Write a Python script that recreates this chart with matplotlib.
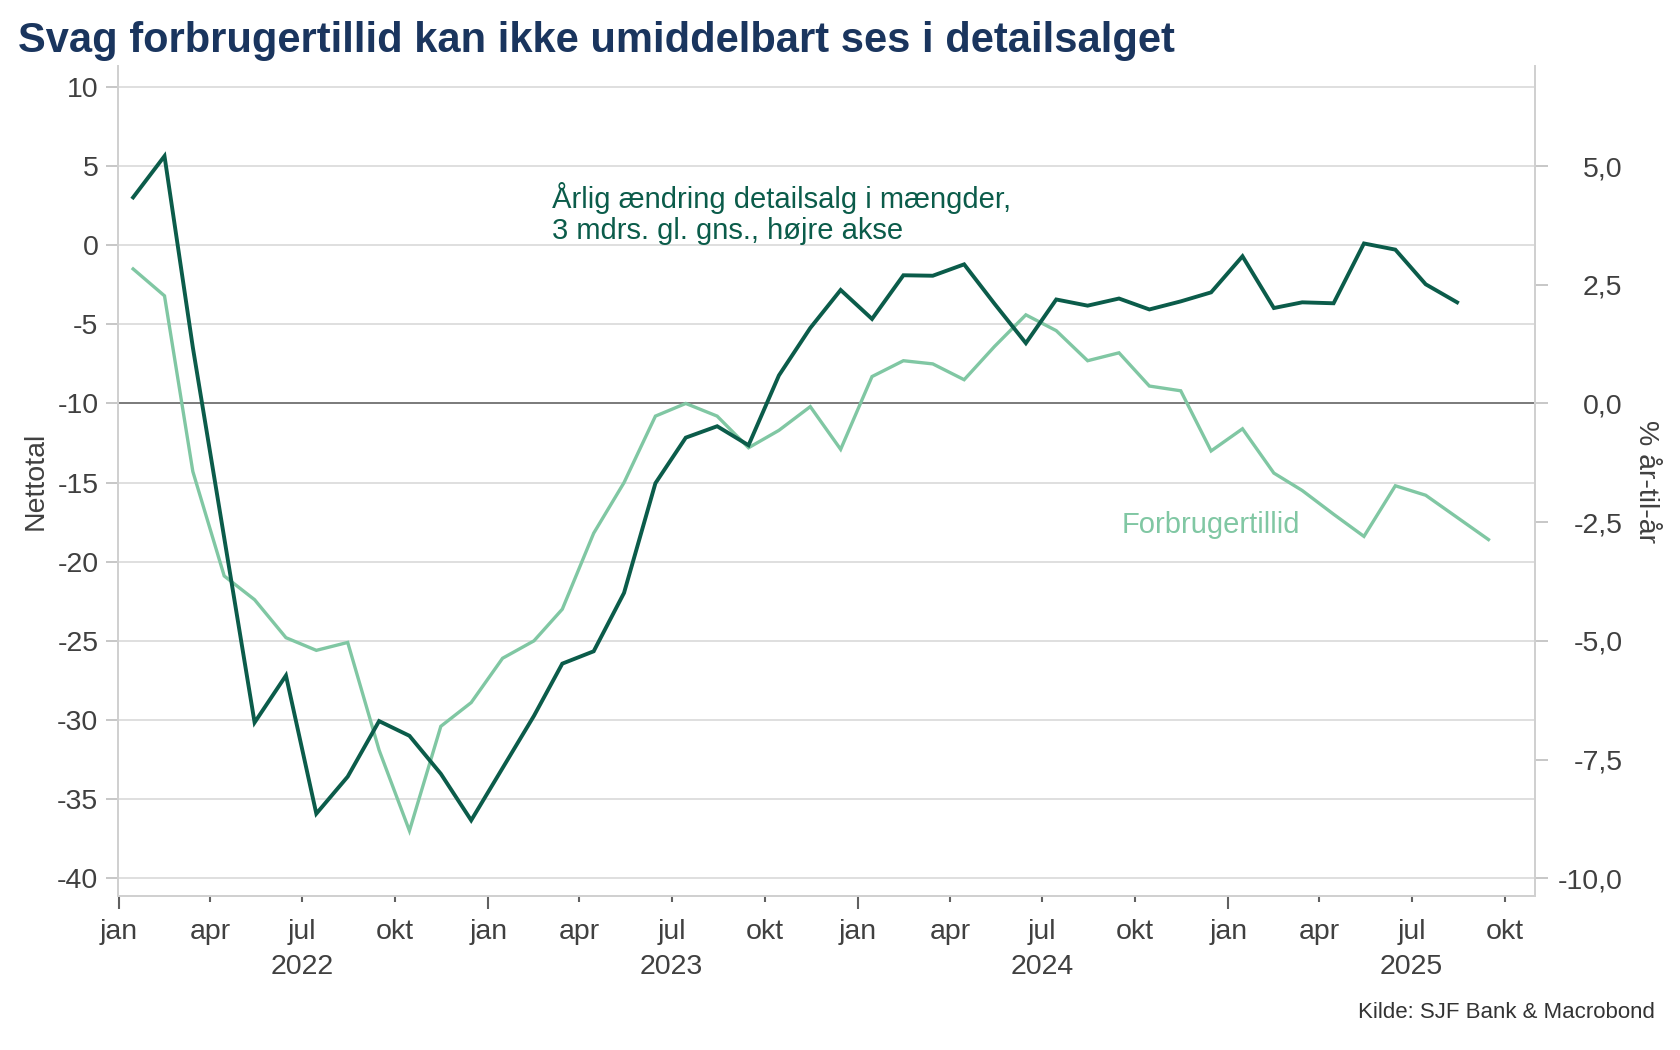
import matplotlib
matplotlib.use("Agg")
import matplotlib.pyplot as plt
import matplotlib.dates as mdates
import matplotlib.ticker as mticker
import pandas as pd
import numpy as np

plt.rcParams['font.family'] = ['Liberation Sans', 'DejaVu Sans']
plt.rcParams['axes.unicode_minus'] = False

# ---- data ----
start_month = "2022-01-01"
forbrugertillid = [-1.5, -3.2, -14.3, -20.9, -22.4, -24.8, -25.6, -25.1, -31.9, -37.0,
                   -30.4, -28.9, -26.1, -25.0, -23.0, -18.2, -15.0, -10.8, -10.0, -10.8,
                   -12.8, -11.7, -10.2, -12.9, -8.3, -7.3, -7.5, -8.5, -6.4, -4.4,
                   -5.4, -7.3, -6.8, -8.9, -9.2, -13.0, -11.6, -14.4, -15.5, -17.0,
                   -18.4, -15.2, -15.8, -17.2, -18.6]
detailsalg = [4.34, 5.21, 1.18, -2.83, -6.72, -5.73, -8.64, -7.86, -6.69, -7.00,
              -7.80, -8.78, -7.68, -6.58, -5.48, -5.22, -3.99, -1.68, -0.72, -0.48,
              -0.88, 0.59, 1.59, 2.39, 1.78, 2.70, 2.69, 2.93, 2.10, 1.27,
              2.19, 2.06, 2.21, 1.98, 2.15, 2.34, 3.10, 2.01, 2.13, 2.11,
              3.37, 3.24, 2.51, 2.13]
left_ticks = [10, 5, 0, -5, -10, -15, -20, -25, -30, -35, -40]
right_ticks = [5.0, 2.5, 0.0, -2.5, -5.0, -7.5, -10.0]
month_names = {1: "jan", 4: "apr", 7: "jul", 10: "okt"}
years = [2022, 2023, 2024, 2025]

title = "Svag forbrugertillid kan ikke umiddelbart ses i detailsalget"
ann_sales = "Årlig ændring detailsalg i mængder,\n3 mdrs. gl. gns., højre akse"
ann_conf = "Forbrugertillid"
source = "Kilde: SJF Bank & Macrobond"

# ---- styling ----
DARK = "#0b5c4a"
LIGHT = "#80c7a3"
TITLE_C = "#1a355e"
TXT = "#404040"
GRID = "#dcdcdc"
SPINE = "#d0d0d0"
FS = 20.5

dates_c = pd.date_range(start_month, periods=len(forbrugertillid), freq="MS") + pd.Timedelta(days=14)
dates_s = pd.date_range(start_month, periods=len(detailsalg), freq="MS") + pd.Timedelta(days=14)

fig = plt.figure(figsize=(16.8, 10.5), dpi=100)
ax = fig.add_axes([0.0702, 0.147, 0.9137 - 0.0702, 0.9368 - 0.147])
ax2 = ax.twinx()

ylo, yhi = -41.1, 11.3
ax.set_ylim(ylo, yhi)
ax2.set_ylim((ylo + 10) / 3, (yhi + 10) / 3)
ax.set_xlim(pd.Timestamp("2021-12-31"), pd.Timestamp("2025-10-31"))

ax.set_yticks(left_ticks)
ax.set_yticklabels([f"{v}" for v in left_ticks])
ax2.set_yticks(right_ticks)
ax2.set_yticklabels([f"{v:.1f}".replace(".", ",") for v in right_ticks], ha="right")

for v in left_ticks:
    if v == -10:
        ax.axhline(v, color="#707070", lw=1.3, zorder=1)
    else:
        ax.axhline(v, color=GRID, lw=1.3, zorder=0)

ax.plot(dates_c, forbrugertillid, color=LIGHT, lw=2.4, zorder=3, solid_joinstyle="miter")
ax2.plot(dates_s, detailsalg, color=DARK, lw=2.8, zorder=4, solid_joinstyle="miter")

# x ticks
ax.xaxis.set_major_locator(mdates.MonthLocator(bymonth=[1]))
ax.xaxis.set_minor_locator(mdates.MonthLocator(bymonth=[4, 7, 10]))
fmt = mticker.FuncFormatter(lambda x, pos: month_names.get(mdates.num2date(x).month, ""))
ax.xaxis.set_major_formatter(fmt)
ax.xaxis.set_minor_formatter(fmt)
ax.tick_params(axis="x", which="major", length=9, width=1.5, color="#606060", pad=8,
               labelsize=FS, labelcolor=TXT)
ax.tick_params(axis="x", which="minor", length=4, width=1.5, color="#606060", pad=13,
               labelsize=FS, labelcolor=TXT)
ax.tick_params(axis="y", length=9, width=1.2, color="#bdbdbd", pad=5, labelsize=FS, labelcolor=TXT)
ax2.tick_params(axis="y", length=9, width=1.2, color="#bdbdbd", pad=54, labelsize=FS, labelcolor=TXT)

for yr in years:
    ax.text(pd.Timestamp(f"{yr}-07-01"), -0.086, str(yr), transform=ax.get_xaxis_transform(),
            ha="center", va="center", fontsize=FS, color=TXT)

for a in (ax, ax2):
    a.spines["top"].set_visible(False)
    for s in ("left", "right", "bottom"):
        a.spines[s].set_color(SPINE)
        a.spines[s].set_linewidth(1.3)

ax.set_ylabel("Nettotal", fontsize=FS, color=TXT)
ax.yaxis.set_label_coords(-0.058, 0.5)
ax.yaxis.label.set_ha("center")
ax.yaxis.label.set_va("center")
ax2.set_ylabel("% år-til-år", fontsize=FS, color=TXT, rotation=270)
ax2.yaxis.set_label_coords(1.078, 0.5)
ax2.yaxis.label.set_ha("center")
ax2.yaxis.label.set_va("center")

ax.text(pd.Timestamp("2023-03-05"), 2.0, ann_sales, fontsize=21, color=DARK,
        ha="left", va="center", linespacing=1.1, zorder=5)
ax.text(pd.Timestamp("2025-03-13"), -17.66, ann_conf, fontsize=21, color=LIGHT,
        ha="right", va="center", zorder=5)

fig.text(0.011, 0.961, title, fontsize=30, fontweight="bold", color=TITLE_C, ha="left", va="center")
fig.text(0.985, 0.036, source, fontsize=16, color="#333333", ha="right", va="center")

fig.savefig("out.png", dpi=100, facecolor="white")
